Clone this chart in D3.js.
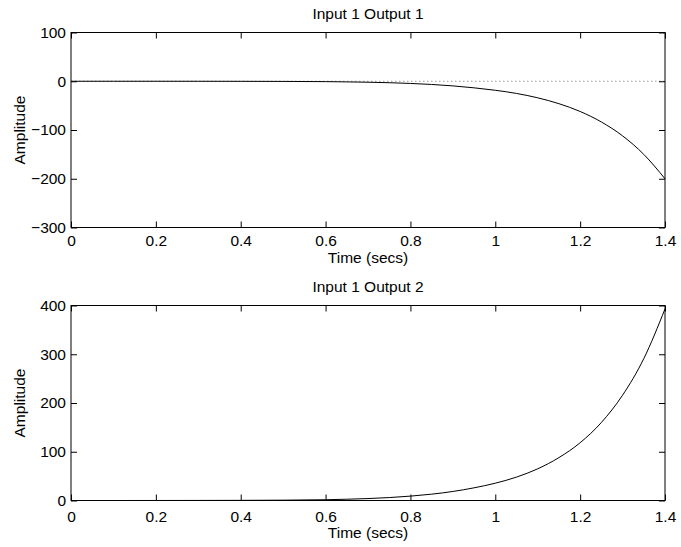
<!DOCTYPE html>
<html><head><meta charset="utf-8">
<script src="https://cdn.jsdelivr.net/npm/d3@7"></script>
<style>
body{margin:0;background:#fff}
text{font-family:"Liberation Sans",Arial,Helvetica,sans-serif;font-size:15.5px;fill:#000}
</style>
</head><body>
<svg id="c" width="681" height="547"></svg>
<script>
const times   = [0,0.1,0.2,0.3,0.4,0.5,0.6,0.65,0.7,0.75,0.8,0.85,0.9,0.95,1.0,1.05,1.1,1.15,1.2,1.25,1.3,1.35,1.4];
const output1 = [0,0,0,-0.05,-0.15,-0.35,-0.8,-1.3,-2,-3,-4.5,-6.6,-9.5,-13.5,-18.5,-25,-34,-46,-62,-83.5,-112,-150,-200];
const output2 = [0,0,0.05,0.15,0.3,0.7,1.6,2.6,4,6,9,13,18.5,26,35.5,48,65,88,118.5,160,216,291,393];
const xTicks  = [0,0.2,0.4,0.6,0.8,1,1.2,1.4];
const yTicks1 = [-300,-200,-100,0,100];
const yTicks2 = [0,100,200,300,400];
const titles  = ["Input 1 Output 1","Input 1 Output 2"];
const xLabel  = "Time (secs)";
const yLabel  = "Amplitude";

const svg = d3.select("#c");
const fmt = d3.format("");
const panels = [
  {title:titles[0], values:output1, yTicks:yTicks1, top:32.5, bottom:227.5, tickPad:7, xlabOff:35.5},
  {title:titles[1], values:output2, yTicks:yTicks2, top:305.5, bottom:500.5, tickPad:10, xlabOff:37}
];
const left = 71, right = 665;

panels.forEach(p => {
  const x = d3.scaleLinear().domain([0,1.4]).range([left,right]);
  const yd = d3.extent(p.yTicks);
  const y = d3.scaleLinear().domain(yd).range([p.bottom,p.top]);
  const g = svg.append("g");

  g.append("line").attr("x1",left).attr("x2",right).attr("y1",y(0)).attr("y2",y(0))
    .attr("stroke","#999").attr("stroke-width",1).attr("stroke-dasharray","1.5,2.5");

  const line = d3.line().x((d,i)=>x(times[i])).y(d=>y(d)).curve(d3.curveMonotoneX);
  g.append("path").datum(p.values).attr("d",line).attr("fill","none")
    .attr("stroke","#000").attr("stroke-width",1);

  const ax = [
    g.append("g").attr("transform",`translate(0,${p.bottom})`)
      .call(d3.axisBottom(x).tickValues(xTicks).tickFormat(fmt).tickSizeInner(-6).tickSizeOuter(0).tickPadding(p.tickPad)),
    g.append("g").attr("transform",`translate(0,${p.top})`)
      .call(d3.axisTop(x).tickValues(xTicks).tickFormat("").tickSizeInner(-6).tickSizeOuter(0)),
    g.append("g").attr("transform",`translate(${left},0)`)
      .call(d3.axisLeft(y).tickValues(p.yTicks).tickFormat(fmt).tickSizeInner(-6).tickSizeOuter(0).tickPadding(5)),
    g.append("g").attr("transform",`translate(${right},0)`)
      .call(d3.axisRight(y).tickValues(p.yTicks).tickFormat("").tickSizeInner(-6).tickSizeOuter(0))
  ];
  ax.forEach(a => {
    a.select(".domain").remove();
    a.selectAll("line").attr("stroke","#000");
    a.selectAll("text").attr("fill","#000");
    a.attr("font-size",null).attr("font-family",null);
  });

  g.append("rect").attr("x",left).attr("y",p.top).attr("width",right-left).attr("height",p.bottom-p.top)
    .attr("fill","none").attr("stroke","#000").attr("stroke-width",1);

  g.append("text").attr("x",(left+right)/2).attr("y",p.top-13.2).attr("text-anchor","middle").text(p.title);
  g.append("text").attr("x",(left+right)/2).attr("y",p.bottom+p.xlabOff).attr("text-anchor","middle").text(xLabel);
  g.append("text").attr("transform",`translate(25,${(p.top+p.bottom)/2}) rotate(-90)`)
    .attr("text-anchor","middle").text(yLabel);
});
</script>
</body></html>
